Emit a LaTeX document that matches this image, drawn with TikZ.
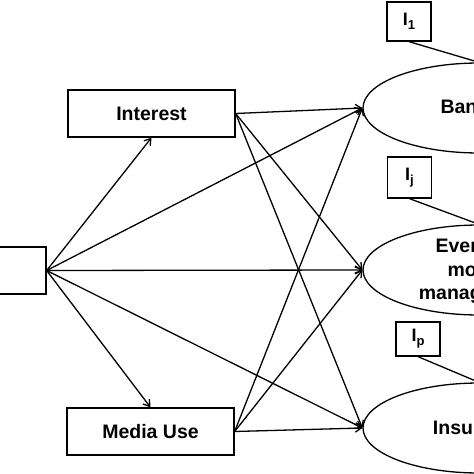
\documentclass[tikz,border=0pt]{standalone}
\usepackage{fontspec}
\setmainfont{Liberation Sans}
\usetikzlibrary{arrows.meta,shapes.geometric}
\newcommand{\isub}[1]{\raisebox{-4pt}{\fontsize{13}{13}\selectfont #1}}
\begin{document}
\begin{tikzpicture}[x=1pt,y=-1pt, line width=1.3pt,
  box/.style={draw, rectangle, minimum width=167pt, minimum height=47pt, inner sep=0pt,
    font=\fontsize{19.5}{22}\selectfont\bfseries},
  ibox/.style={draw, rectangle, minimum width=44pt, inner sep=0pt,
    font=\fontsize{18}{20}\selectfont\bfseries},
  lat/.style={draw, ellipse, minimum width=232pt, minimum height=90pt, inner sep=0pt},
  lattext/.style={align=center, inner sep=0pt, font=\fontsize{19.5}{23.5}\selectfont\bfseries},
  arr/.style={-{Straight Barb[length=6pt,width=8pt,line width=1.3pt]}}
]
\useasboundingbox (0,0) rectangle (474,474);
\begin{scope}
\clip (0,0) rectangle (474,474);
% exogenous boxes
\node[box] (src) at (-37.5,270.5) {};
\node[box] (int) at (151.5,113.5) {Interest};
\node[box] (med) at (150.5,431.5) {Media Use};
% latent ellipses
\node[lat] (bank) at (479,108) {};
\node[lat] (every) at (479,270) {};
\node[lat] (ins) at (479,428) {};
\node[lattext] (bankt) at (479,108) {Banking};
\node[lattext] (everyt) at (479,271) {Everyday\\money\\management};
\node[lattext] (inst) at (479,428) {Insurance};
% indicator boxes
\node[ibox, minimum height=39pt] (i1) at (409,21.5) {I\isub{1}};
\node[ibox, minimum height=41pt] (ij) at (409.5,177.5) {I\isub{j}};
\node[ibox, minimum height=34pt] (ip) at (418,339) {I\isub{p}};
% indicator lines
\draw (i1.south) -- (bank.north);
\draw (ij.south) -- (every.north);
\draw (ip.south) -- (ins.north);
% paths
\draw[arr] (src.east) -- (int.south);
\draw[arr] (src.east) -- (med.north);
\draw[arr] (src.east) -- (bank.west);
\draw[arr] (src.east) -- (every.west);
\draw[arr] (src.east) -- (ins.west);
\draw[arr] (int.east) -- (bank.west);
\draw[arr] (int.east) -- (every.west);
\draw[arr] (int.east) -- (ins.west);
\draw[arr] (med.east) -- (bank.west);
\draw[arr] (med.east) -- (every.west);
\draw[arr] (med.east) -- (ins.west);
\end{scope}
\end{tikzpicture}
\end{document}
